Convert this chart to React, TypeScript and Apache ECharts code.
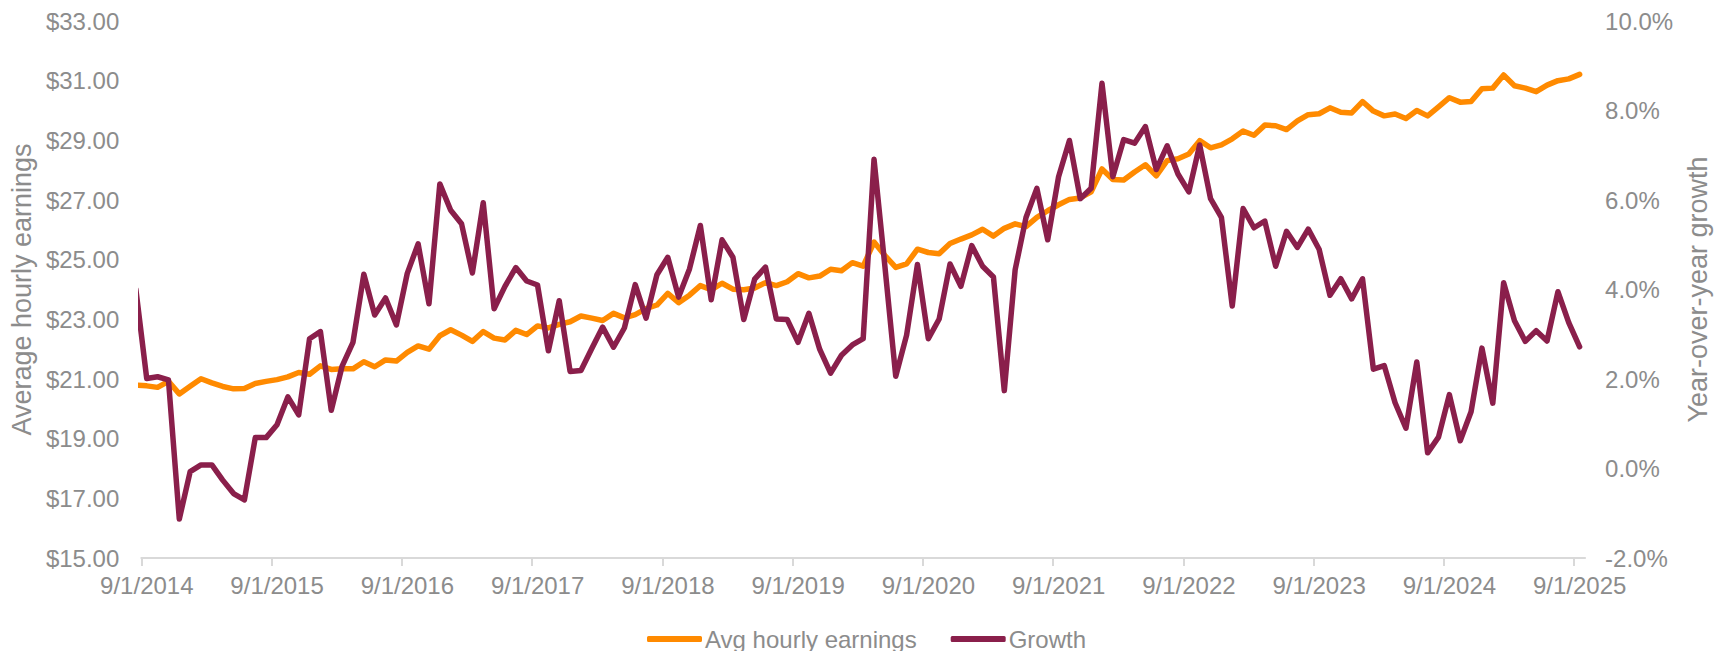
import React, { useEffect, useRef } from "react";
import * as echarts from "echarts";

// Year tick labels (one every 12 months, Sep 2014 .. Sep 2025)
const yearTicks = [
  "9/1/2014", "9/1/2015", "9/1/2016", "9/1/2017", "9/1/2018", "9/1/2019",
  "9/1/2020", "9/1/2021", "9/1/2022", "9/1/2023", "9/1/2024", "9/1/2025",
];

// Monthly values, Aug 2014 .. Sep 2025 (Aug 2014 is clipped at the plot edge)
const avgHourlyEarnings = [
  20.80,
  20.77, 20.72, 20.92, 20.50, 20.76, 21.01, 20.87, 20.75, 20.67, 20.68,
  20.85, 20.92, 20.98, 21.07, 21.22, 21.16, 21.44, 21.32, 21.34, 21.34,
  21.58, 21.41, 21.64, 21.60, 21.89, 22.11, 22.00, 22.45, 22.65, 22.47,
  22.26, 22.59, 22.37, 22.31, 22.63, 22.49, 22.78, 22.71, 22.83, 22.92,
  23.11, 23.04, 22.96, 23.20, 23.05, 23.16, 23.36, 23.48, 23.87, 23.56,
  23.81, 24.13, 23.99, 24.21, 24.01, 23.99, 24.05, 24.23, 24.13, 24.26,
  24.53, 24.39, 24.45, 24.68, 24.63, 24.90, 24.78, 25.59, 25.14, 24.74,
  24.86, 25.35, 25.24, 25.20, 25.54, 25.69, 25.83, 26.02, 25.79, 26.05,
  26.20, 26.11, 26.42, 26.64, 26.84, 27.02, 27.07, 27.27, 28.04, 27.69,
  27.67, 27.94, 28.18, 27.81, 28.32, 28.38, 28.54, 28.99, 28.75, 28.85,
  29.05, 29.31, 29.17, 29.51, 29.49, 29.36, 29.65, 29.86, 29.89, 30.09,
  29.94, 29.92, 30.30, 29.98, 29.82, 29.88, 29.73, 30.00, 29.82, 30.12,
  30.43, 30.28, 30.30, 30.73, 30.75, 31.19, 30.83, 30.75, 30.63, 30.85,
  31.00, 31.06, 31.21,
];

const growthPct = [
  4.0,
  2.01, 2.05, 1.98, -1.13, -0.07, 0.08, 0.08, -0.26, -0.56, -0.70,
  0.69, 0.69, 0.98, 1.60, 1.20, 2.90, 3.06, 1.30, 2.29, 2.82,
  4.34, 3.43, 3.81, 3.21, 4.36, 5.02, 3.68, 6.36, 5.77, 5.47,
  4.37, 5.94, 3.57, 4.07, 4.49, 4.19, 4.10, 2.63, 3.75, 2.17,
  2.19, 2.68, 3.16, 2.71, 3.14, 4.11, 3.36, 4.33, 4.72, 3.83,
  4.46, 5.43, 3.77, 5.11, 4.72, 3.33, 4.23, 4.50, 3.34, 3.33,
  2.82, 3.47, 2.66, 2.13, 2.53, 2.76, 2.90, 6.91, 4.52, 2.06,
  2.98, 4.56, 2.90, 3.34, 4.57, 4.07, 4.98, 4.52, 4.28, 1.74,
  4.44, 5.61, 6.26, 5.11, 6.52, 7.33, 6.03, 6.26, 8.61, 6.52,
  7.35, 7.27, 7.64, 6.68, 7.21, 6.58, 6.18, 7.23, 6.03, 5.61,
  3.63, 5.81, 5.38, 5.53, 4.52, 5.30, 4.94, 5.35, 4.90, 3.87,
  4.24, 3.79, 4.24, 2.22, 2.30, 1.47, 0.90, 2.38, 0.35, 0.70,
  1.65, 0.62, 1.27, 2.69, 1.46, 4.15, 3.30, 2.84, 3.08, 2.85,
  3.95, 3.26, 2.72,
];

const FONT = "'Liberation Sans', Arial, sans-serif";
const GRAY = "#8C8C8C";
const AXIS_GRAY = "#D9D9D9";

export default function App() {
  const ref = useRef<HTMLDivElement>(null);

  useEffect(() => {
    if (!ref.current) return;
    const chart = echarts.init(ref.current, undefined, { renderer: "svg" });

    // 133 monthly bands -> 134 boundaries on the category axis
    const boundaries: string[] = [];
    for (let k = 0; k <= 133; k++) {
      boundaries.push(k % 12 === 0 ? yearTicks[k / 12] ?? "" : "m" + k);
    }
    // each month's point sits at the middle of its band; first item is Aug 2014
    const earnData = avgHourlyEarnings.map((v, j) => [j - 0.5, v]);
    const growthData = growthPct.map((v, j) => [j - 0.5, v]);

    chart.setOption({
      animation: false,
      textStyle: { fontFamily: FONT },
      grid: { left: 141, right: 128, top: 21, bottom: 93, containLabel: false },
      legend: {
        left: 647,
        top: 627,
        padding: 0,
        itemWidth: 55,
        itemHeight: 6,
        itemGap: 34,
        icon: "roundRect",
        textStyle: { fontFamily: FONT, fontSize: 24, color: GRAY, padding: [0, 0, 0, -2] },
        data: ["Avg hourly earnings", "Growth"],
      },
      xAxis: [
        {
          type: "category",
          data: boundaries,
          boundaryGap: false,
          axisLine: { show: true, onZero: false, lineStyle: { color: AXIS_GRAY, width: 2 } },
          axisTick: {
            show: true,
            length: 8,
            interval: (i: number) => i % 12 === 0,
            lineStyle: { color: AXIS_GRAY, width: 2 },
          },
          axisLabel: {
            show: true,
            interval: (i: number) => i % 12 === 0,
            margin: 15,
            fontSize: 24,
            color: GRAY,
            fontFamily: FONT,
            padding: [0, 0, 0, 11],
          },
          splitLine: { show: false },
        },
        {
          type: "value",
          min: 0,
          max: 133,
          show: false,
          axisLine: { onZero: false },
          splitLine: { show: false },
        },
      ],
      yAxis: [
        {
          type: "value",
          position: "left",
          min: 15,
          max: 33,
          interval: 2,
          axisLine: { show: false },
          axisTick: { show: false },
          splitLine: { show: false },
          axisLabel: {
            margin: 22,
            fontSize: 24,
            color: GRAY,
            fontFamily: FONT,
            formatter: (v: number) => "$" + v.toFixed(2),
          },
          name: "Average hourly earnings",
          nameLocation: "middle",
          nameRotate: 90,
          nameGap: 106,
          nameTextStyle: { fontSize: 27, color: GRAY, fontFamily: FONT },
        },
        {
          type: "value",
          position: "right",
          min: -2,
          max: 10,
          interval: 2,
          axisLine: { show: false },
          axisTick: { show: false },
          splitLine: { show: false },
          axisLabel: {
            margin: 20,
            fontSize: 24,
            color: GRAY,
            fontFamily: FONT,
            formatter: (v: number) => v.toFixed(1) + "%",
          },
          name: "Year-over-year growth",
          nameLocation: "middle",
          nameRotate: 90,
          nameGap: 96,
          nameTextStyle: { fontSize: 27, color: GRAY, fontFamily: FONT },
        },
      ],
      series: [
        {
          name: "Avg hourly earnings",
          type: "line",
          xAxisIndex: 1,
          yAxisIndex: 0,
          data: earnData,
          symbol: "none",
          clip: true,
          color: "#FF8A00",
          lineStyle: { color: "#FF8A00", width: 5.5, join: "round", cap: "round" },
        },
        {
          name: "Growth",
          type: "line",
          xAxisIndex: 1,
          yAxisIndex: 1,
          data: growthData,
          symbol: "none",
          clip: true,
          color: "#8A1F4B",
          lineStyle: { color: "#8A1F4B", width: 5.5, join: "round", cap: "round" },
        },
      ],
    });

    return () => chart.dispose();
  }, []);

  return (
    <div
      ref={ref}
      style={{ position: "fixed", left: 0, top: 0, width: 1719, height: 651, background: "#fff" }}
    />
  );
}
